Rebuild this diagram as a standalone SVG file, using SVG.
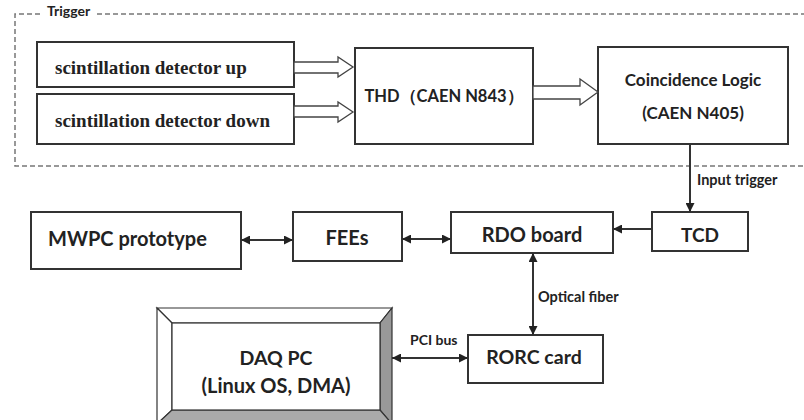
<svg xmlns="http://www.w3.org/2000/svg" width="804" height="420" viewBox="0 0 804 420">
<defs>
<style>
.box{fill:#fff;stroke:#333;stroke-width:2}
.serif{font-family:"Liberation Serif","Times New Roman",serif;font-weight:bold;font-size:19px;fill:#222}
.sans{font-family:Lato,"Open Sans",sans-serif;font-weight:bold;fill:#222}
.dash{fill:none;stroke:#777;stroke-width:1.5;stroke-dasharray:5 3}
.line{fill:none;stroke:#333;stroke-width:2}
.hollow{fill:#fff;stroke:#444;stroke-width:1.3}
.bev{stroke:#333;stroke-width:1.2}
</style>
<marker id="ah" viewBox="0 0 10 10" refX="10" refY="5" markerWidth="10" markerHeight="9" markerUnits="userSpaceOnUse" orient="auto-start-reverse">
<path d="M0,0 L10,5 L0,10 z" fill="#222"/>
</marker>
</defs>

<g id="trigger-frame">
<path class="dash" d="M40,14 L15,14 L15,166 L804,166"/>
<path class="dash" d="M97,14 L804,14"/>
<text class="sans" x="47" y="16" font-size="14">Trigger</text>
</g>

<g id="sd-up">
<rect class="box" x="37" y="42" width="257" height="45"/>
<text class="serif" x="55" y="74">scintillation detector up</text>
</g>
<g id="sd-down">
<rect class="box" x="37" y="94" width="257" height="50"/>
<text class="serif" x="55" y="127">scintillation detector down</text>
</g>
<g id="thd">
<rect class="box" x="355" y="48" width="178" height="96"/>
<text class="sans" x="444" y="102" font-size="16.5" text-anchor="middle">THD（CAEN N843）</text>
</g>
<g id="coincidence">
<rect class="box" x="598" y="47" width="190" height="97"/>
<text class="sans" x="693" y="86" font-size="17" text-anchor="middle">Coincidence Logic</text>
<text class="sans" x="693" y="119" font-size="17" text-anchor="middle">(CAEN N405)</text>
</g>
<g id="mwpc">
<rect class="box" x="31" y="212" width="210" height="57"/>
<text class="sans" x="48" y="246" font-size="20">MWPC prototype</text>
</g>
<g id="fees">
<rect class="box" x="293" y="212" width="109" height="49"/>
<text class="sans" x="347" y="245" font-size="20" text-anchor="middle">FEEs</text>
</g>
<g id="rdo">
<rect class="box" x="451" y="212" width="162" height="41"/>
<text class="sans" x="532" y="242" font-size="20" text-anchor="middle">RDO board</text>
</g>
<g id="tcd">
<rect class="box" x="652" y="212" width="96" height="39"/>
<text class="sans" x="700" y="242" font-size="19" text-anchor="middle">TCD</text>
</g>
<g id="rorc">
<rect class="box" x="468" y="335" width="135" height="48"/>
<text class="sans" x="534" y="364" font-size="19.5" text-anchor="middle">RORC card</text>
</g>
<g id="daq">
<polygon class="bev" points="157,308 392,308 380,323 172,323" fill="#fff"/>
<polygon class="bev" points="157,308 172,323 172,410 157,424" fill="#fff"/>
<polygon class="bev" points="392,308 392,424 380,410 380,323" fill="#999"/>
<polygon class="bev" points="157,424 392,424 380,410 172,410" fill="#aaa"/>
<rect x="172" y="323" width="208" height="87" fill="#fff" stroke="#333" stroke-width="1.2"/>
<text class="sans" x="276" y="365" font-size="19.5" text-anchor="middle">DAQ PC</text>
<text class="sans" x="276" y="393" font-size="20" text-anchor="middle">(Linux OS, DMA)</text>
</g>

<g id="connectors">
<polygon class="hollow" points="294,62 338,62 338,57 353,67 338,77 338,73 294,73"/>
<polygon class="hollow" points="294,106 338,106 338,102 353,112 338,122 338,117 294,117"/>
<polygon class="hollow" points="533,86 580,86 580,79 598,92 580,105 580,99 533,99"/>
<line class="line" x1="690" y1="144" x2="690" y2="212" marker-end="url(#ah)"/>
<text class="sans" x="697" y="185" font-size="14.5">Input trigger</text>
<line class="line" x1="652" y1="229" x2="613" y2="229" marker-end="url(#ah)"/>
<line class="line" x1="241" y1="240" x2="293" y2="240" marker-start="url(#ah)" marker-end="url(#ah)"/>
<line class="line" x1="402" y1="239" x2="451" y2="239" marker-start="url(#ah)" marker-end="url(#ah)"/>
<line class="line" x1="533" y1="253" x2="533" y2="335" marker-start="url(#ah)" marker-end="url(#ah)"/>
<text class="sans" x="538" y="302" font-size="14.5">Optical fiber</text>
<line class="line" x1="392" y1="358" x2="468" y2="358" marker-start="url(#ah)" marker-end="url(#ah)"/>
<text class="sans" x="410" y="345" font-size="14">PCI bus</text>
</g>
</svg>
